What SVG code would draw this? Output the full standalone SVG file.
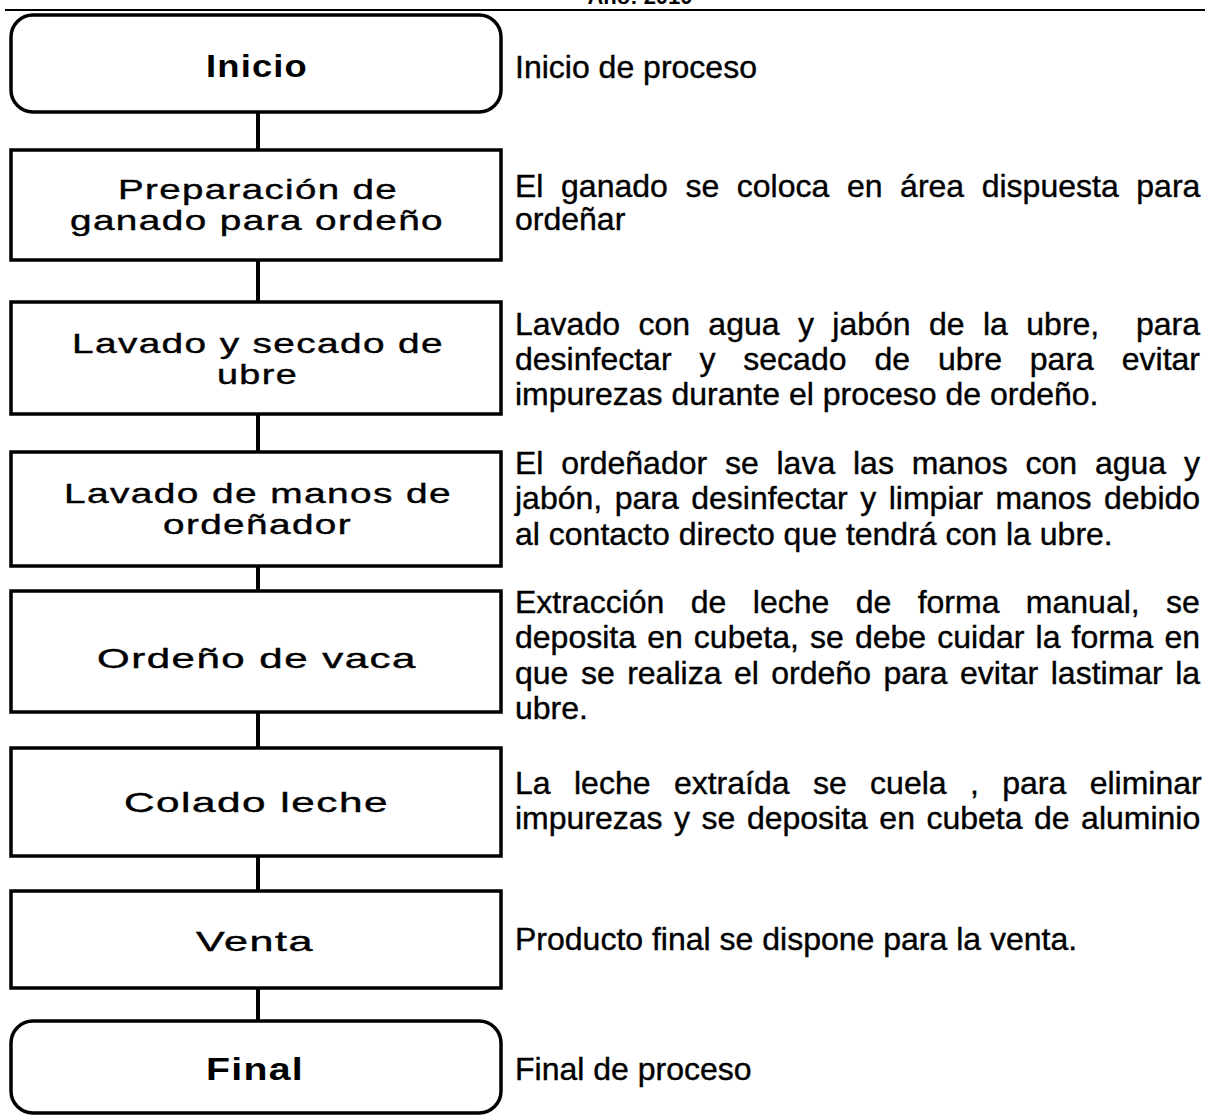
<svg xmlns="http://www.w3.org/2000/svg" width="1205" height="1116" viewBox="0 0 1205 1116">
<style>
.box{fill:#fff;stroke:#000;stroke-width:3.5}
.bt{font-family:"Liberation Sans",Arial,sans-serif;font-size:28px;fill:#000;stroke:#000;stroke-width:0.4;letter-spacing:1px}
.bb{font-family:"Liberation Sans",Arial,sans-serif;font-size:31px;font-weight:bold;fill:#000;letter-spacing:1px}
.dt{font-family:"Liberation Sans",Arial,sans-serif;font-size:32px;fill:#000;stroke:#000;stroke-width:0.4}
.con{stroke:#000;stroke-width:4;fill:none}
</style>
<rect x="0" y="0" width="1205" height="1116" fill="#fff"/>
<text x="640" y="4" text-anchor="middle" font-family="Liberation Sans, Arial, sans-serif" font-size="22" font-weight="bold">Año: 2010</text>
<line x1="5" y1="10" x2="1205" y2="10" stroke="#000" stroke-width="2"/>
<g id="connectors">
<line class="con" x1="258" y1="112" x2="258" y2="150"/>
<line class="con" x1="258" y1="260" x2="258" y2="302"/>
<line class="con" x1="258" y1="414" x2="258" y2="452"/>
<line class="con" x1="258" y1="566" x2="258" y2="591"/>
<line class="con" x1="258" y1="712" x2="258" y2="748"/>
<line class="con" x1="258" y1="856" x2="258" y2="891"/>
<line class="con" x1="258" y1="988" x2="258" y2="1021"/>
</g>
<g id="n1">
<rect class="box" x="11" y="15" width="490" height="97" rx="22"/>
<text class="bb" x="206" y="77" textLength="102" lengthAdjust="spacingAndGlyphs">Inicio</text>
</g>
<g id="n2">
<rect class="box" x="11" y="150" width="490" height="110"/>
<text class="bt" x="118" y="199" textLength="280" lengthAdjust="spacingAndGlyphs">Preparación de</text>
<text class="bt" x="70" y="230" textLength="374" lengthAdjust="spacingAndGlyphs">ganado para ordeño</text>
</g>
<g id="n3">
<rect class="box" x="11" y="302" width="490" height="112"/>
<text class="bt" x="72" y="353" textLength="372" lengthAdjust="spacingAndGlyphs">Lavado y secado de</text>
<text class="bt" x="217" y="384" textLength="81" lengthAdjust="spacingAndGlyphs">ubre</text>
</g>
<g id="n4">
<rect class="box" x="11" y="452" width="490" height="114"/>
<text class="bt" x="64" y="503" textLength="388" lengthAdjust="spacingAndGlyphs">Lavado de manos de</text>
<text class="bt" x="163" y="534" textLength="189" lengthAdjust="spacingAndGlyphs">ordeñador</text>
</g>
<g id="n5">
<rect class="box" x="11" y="591" width="490" height="121"/>
<text class="bt" x="97" y="668" textLength="320" lengthAdjust="spacingAndGlyphs">Ordeño de vaca</text>
</g>
<g id="n6">
<rect class="box" x="11" y="748" width="490" height="108"/>
<text class="bt" x="124" y="812" textLength="265" lengthAdjust="spacingAndGlyphs">Colado leche</text>
</g>
<g id="n7">
<rect class="box" x="11" y="891" width="490" height="97"/>
<text class="bt" x="196" y="951" textLength="118" lengthAdjust="spacingAndGlyphs">Venta</text>
</g>
<g id="n8">
<rect class="box" x="11" y="1021" width="490" height="92" rx="22"/>
<text class="bb" x="206" y="1080" textLength="98" lengthAdjust="spacingAndGlyphs">Final</text>
</g>
<g id="descriptions">
<text class="dt" x="515" y="78">Inicio de proceso</text>
<text class="dt" x="515" y="197" word-spacing="8.7">El ganado se coloca en área dispuesta para</text>
<text class="dt" x="515" y="230">ordeñar</text>
<text class="dt" x="515" y="335" word-spacing="9.5" xml:space="preserve">Lavado con agua y jabón de la ubre,  para</text>
<text class="dt" x="515" y="370" word-spacing="19">desinfectar y secado de ubre para evitar</text>
<text class="dt" x="515" y="405">impurezas durante el proceso de ordeño.</text>
<text class="dt" x="515" y="474" word-spacing="8.9">El ordeñador se lava las manos con agua y</text>
<text class="dt" x="515" y="509" word-spacing="3.6">jabón, para desinfectar y limpiar manos debido</text>
<text class="dt" x="515" y="545">al contacto directo que tendrá con la ubre.</text>
<text class="dt" x="515" y="613" word-spacing="17.5">Extracción de leche de forma manual, se</text>
<text class="dt" x="515" y="648" word-spacing="2.25">deposita en cubeta, se debe cuidar la forma en</text>
<text class="dt" x="515" y="684" word-spacing="3.6">que se realiza el ordeño para evitar lastimar la</text>
<text class="dt" x="515" y="719">ubre.</text>
<text class="dt" x="515" y="794" word-spacing="14.5">La leche extraída se cuela , para eliminar</text>
<text class="dt" x="515" y="829" word-spacing="2.6">impurezas y se deposita en cubeta de aluminio</text>
<text class="dt" x="515" y="950">Producto final se dispone para la venta.</text>
<text class="dt" x="515" y="1080">Final de proceso</text>
</g>
</svg>
